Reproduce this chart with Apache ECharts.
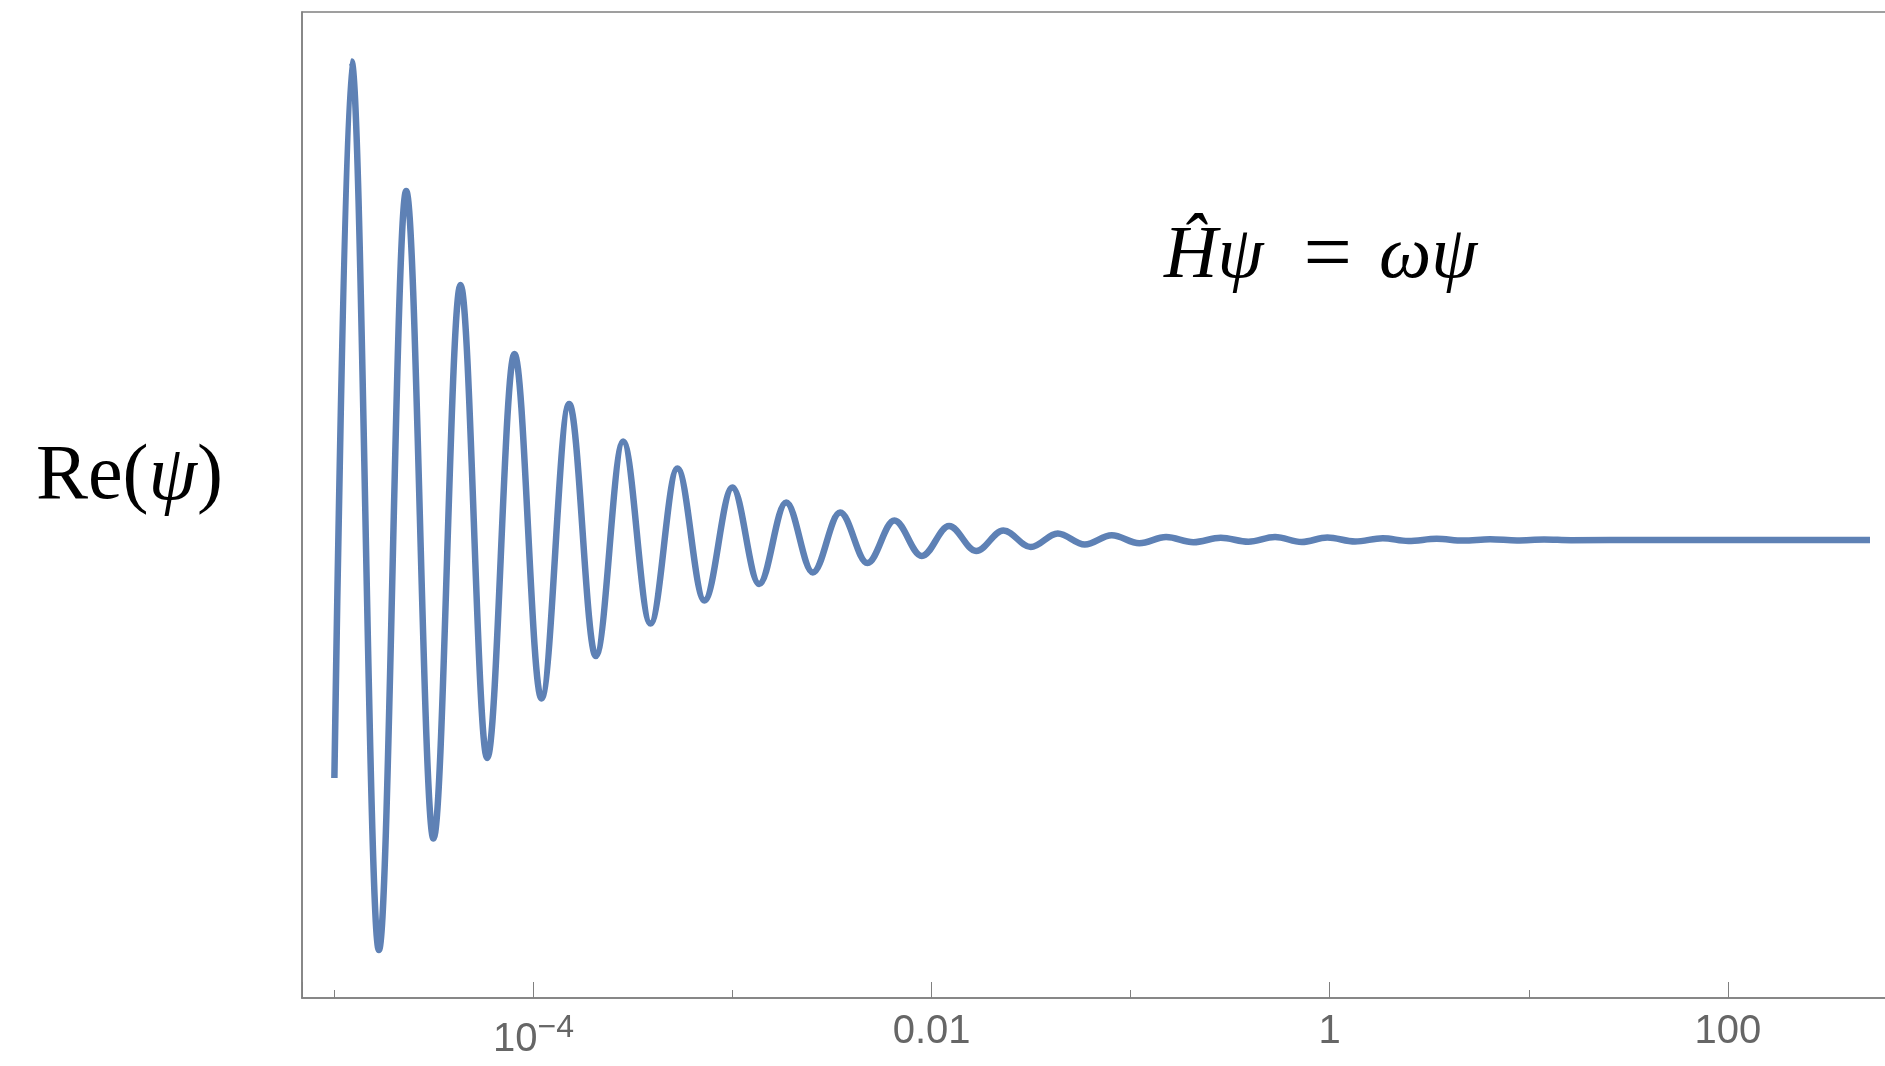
<!DOCTYPE html>
<html>
<head>
<meta charset="utf-8">
<script src="https://cdn.jsdelivr.net/npm/echarts@6/dist/echarts.min.js"></script>
<style>
  html, body { margin: 0; padding: 0; background: #fff; }
  #chart { width: 1885px; height: 1066px; }
</style>
</head>
<body>
<div id="chart"></div>
<script>
// x positions of the turning points of Re(psi)
const xVals = [
  1.000e-5,
  1.219e-5, 1.673e-5, 2.294e-5, 3.146e-5, 4.299e-5, 5.855e-5,
  8.026e-5, 1.097e-4, 1.511e-4, 2.058e-4, 2.822e-4, 3.870e-4,
  5.288e-4, 7.225e-4, 9.990e-4, 1.361e-3, 1.859e-3, 2.532e-3,
  3.472e-3, 4.760e-3, 6.505e-3, 8.931e-3, 1.225e-2, 1.674e-2,
  2.295e-2, 3.150e-2, 4.305e-2, 5.883e-2, 8.039e-2, 0.1106,
  0.1507, 0.2066, 0.2836, 0.3904, 0.5314, 0.7238,
  0.9732, 1.341, 1.847, 2.484, 3.449, 4.692,
  6.389, 8.730, 11.93, 16.30,
  40, 120, 517.6
];
// Re(psi) at those points (arbitrary units, 0 = resting level)
const reVals = [
  -2.38,
  4.785, -4.10, 3.49, -2.985, 2.55, -2.18,
  1.86, -1.585, 1.36, -1.16, 0.985, -0.835,
  0.715, -0.605, 0.525, -0.44, 0.375, -0.325,
  0.275, -0.23, 0.195, -0.16, 0.14, -0.11,
  0.095, -0.07, 0.065, -0.045, 0.048, -0.032,
  0.03, -0.022, 0.022, -0.017, 0.03, -0.02,
  0.025, -0.015, 0.018, -0.01, 0.012, -0.006,
  0.008, -0.004, 0.005, -0.002,
  0, 0, 0
];

// axis range
const xMin = 6.876e-6;
const xMax = 630.3;
const yMin = -4.58;
const yMax = 5.28;

// labelled ticks (powers of ten) and their texts
const labelExps = [-4, -2, 0, 2];
const labelTexts = ['{base|10}{sup|\u22124}', '0.01', '1', '100'];

const axisGray = '#808080';

function majorLabel(value) {
  const e = Math.log10(value);
  const k = Math.round(e);
  if (Math.abs(e - k) > 1e-6) return '';
  const i = labelExps.indexOf(k);
  return i < 0 ? '' : labelTexts[i];
}

const myChart = echarts.init(document.getElementById('chart'));

const option = {
  animation: false,
  backgroundColor: '#fff',
  title: {
    text: '{i|\u0124\u03c8}{n|=}{i|\u03c9\u03c8}',
    left: 1164,
    top: 215,
    padding: 0,
    textStyle: {
      fontWeight: 'normal',
      rich: {
        i: { fontFamily: 'Liberation Serif', fontStyle: 'italic', fontWeight: 'normal', fontSize: 74, color: '#000' },
        n: { fontFamily: 'Liberation Serif', fontWeight: 'normal', fontSize: 86, color: '#000', padding: [0, 27, 0, 40] }
      }
    }
  },
  grid: {
    left: 302,
    right: -2,
    top: 12,
    bottom: 68,
    show: true,
    borderColor: axisGray,
    borderWidth: 1.5,
    outerBoundsMode: 'none'
  },
  xAxis: [
    {
      // labelled axis: ticks every two decades
      type: 'log',
      logBase: 100,
      min: xMin,
      max: xMax,
      position: 'bottom',
      axisLine: { show: true, onZero: false, lineStyle: { color: axisGray, width: 1.5 } },
      axisTick: { show: true, inside: true, length: 16, lineStyle: { color: axisGray, width: 1 } },
      splitLine: { show: false },
      axisLabel: {
        margin: 14,
        color: '#666',
        fontFamily: 'Liberation Sans',
        fontSize: 40,
        showMinLabel: true,
        showMaxLabel: true,
        formatter: majorLabel,
        rich: {
          base: { fontFamily: 'Liberation Sans', fontSize: 40, lineHeight: 55, color: '#666' },
          sup: { fontFamily: 'Liberation Sans', fontSize: 32, lineHeight: 32, verticalAlign: 'top', color: '#666' }
        }
      }
    },
    {
      // short ticks on every decade
      type: 'log',
      logBase: 10,
      min: xMin,
      max: xMax,
      position: 'bottom',
      axisLine: { show: false, onZero: false },
      axisTick: { show: true, inside: true, length: 8, lineStyle: { color: axisGray, width: 1 } },
      splitLine: { show: false },
      axisLabel: { show: false }
    }
  ],
  yAxis: {
    type: 'value',
    min: yMin,
    max: yMax,
    axisLine: { show: true, onZero: false, lineStyle: { color: axisGray, width: 1.5 } },
    axisTick: { show: false },
    axisLabel: { show: false },
    splitLine: { show: false },
    name: '{r|Re(}{i|\u03c8}{r|)}',
    nameLocation: 'middle',
    nameRotate: 0,
    nameGap: 79,
    nameTextStyle: {
      padding: [0, 0, 54, 0],
      rich: {
        r: { fontFamily: 'Liberation Serif', fontSize: 78, color: '#000' },
        i: { fontFamily: 'Liberation Serif', fontStyle: 'italic', fontSize: 78, color: '#000' }
      }
    }
  },
  series: [
    {
      type: 'line',
      xAxisIndex: 0,
      data: xVals.map((x, i) => [x, reVals[i]]),
      showSymbol: false,
      smooth: 0.36,
      smoothMonotone: 'x',
      lineStyle: { color: '#5E81B5', width: 6.5 }
    }
  ]
};

myChart.setOption(option);
</script>
</body>
</html>
